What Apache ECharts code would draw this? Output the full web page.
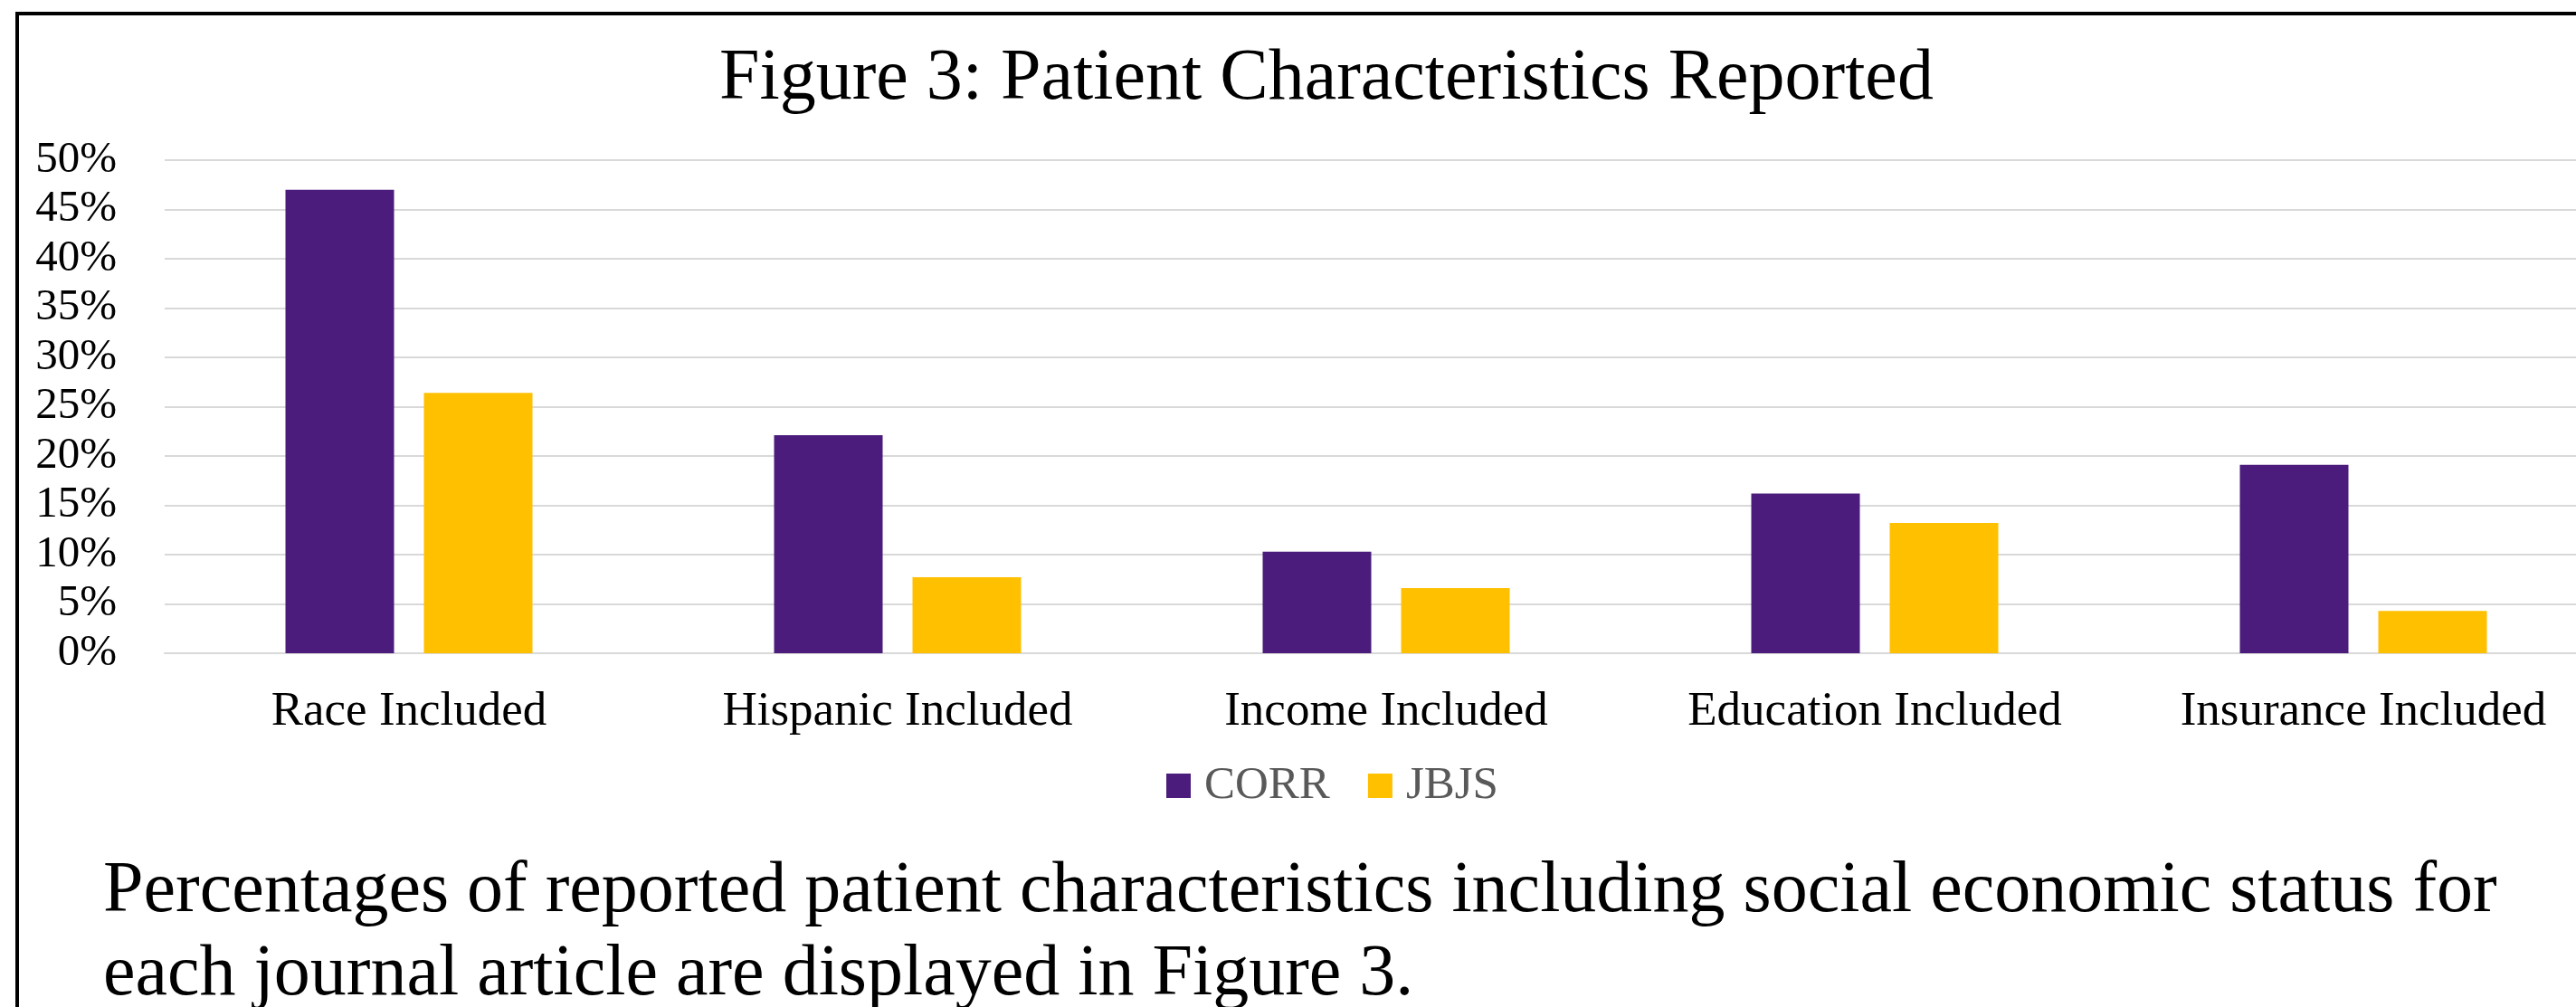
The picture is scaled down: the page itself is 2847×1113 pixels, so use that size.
<!DOCTYPE html>
<html>
<head>
<meta charset="utf-8">
<title>Figure 3</title>
<script src="https://cdn.jsdelivr.net/npm/echarts@6/dist/echarts.min.js"></script>
<style>
  html, body { margin: 0; padding: 0; background: #fff; overflow: hidden; }
  /* the original figure is cropped on the right, so the chart runs past the window */
  #main { width: 2900px; height: 1113px; }
</style>
</head>
<body>
<div id="main"></div>
<script>
var categories = ["Race Included", "Hispanic Included", "Income Included", "Education Included", "Insurance Included"];
var corrValues = [47.0, 22.1, 10.3, 16.2, 19.1];
var jbjsValues = [26.4, 7.7, 6.6, 13.2, 4.3];
var seriesNames = ["CORR", "JBJS"];
var titleText = "Figure 3: Patient Characteristics Reported";
var captionText = "Percentages of reported patient characteristics including social economic status for\neach journal article are displayed in Figure 3.";

var serif = "'Liberation Serif', 'Times New Roman', serif";

var chart = echarts.init(document.getElementById("main"));

var option = {
    animation: false,
    backgroundColor: "#fff",
    color: ["#4B1C7B", "#FFC000"],
    title: [
        {
            text: titleText,
            left: 795,
            top: 48,
            padding: 0,
            textStyle: { fontFamily: serif, fontSize: 80, fontWeight: "normal", color: "#000" }
        },
        {
            text: captionText,
            left: 114,
            top: 940,
            padding: 0,
            textStyle: { fontFamily: serif, fontSize: 80, fontWeight: "normal", color: "#000", lineHeight: 92 }
        }
    ],
    legend: {
        data: seriesNames,
        left: 1289,
        top: 843,
        padding: 0,
        icon: "rect",
        itemWidth: 27,
        itemHeight: 27,
        itemGap: 42,
        textStyle: { fontFamily: serif, fontSize: 51, color: "#595959", padding: [0, 0, 0, 10] }
    },
    grid: {
        left: 182,
        top: 177,
        width: 2700,
        bottom: 391
    },
    xAxis: {
        type: "category",
        data: categories,
        axisTick: { show: false },
        axisLine: { show: true, lineStyle: { color: "#D9D9D9", width: 2 } },
        axisLabel: { fontFamily: serif, fontSize: 53, color: "#000", margin: 39, interval: 0 }
    },
    yAxis: {
        type: "value",
        min: 0,
        max: 50,
        interval: 5,
        axisLine: { show: false },
        axisTick: { show: false },
        splitLine: { lineStyle: { color: "#D9D9D9", width: 2 } },
        axisLabel: { fontFamily: serif, fontSize: 49, color: "#000", margin: 53, formatter: "{value}%" }
    },
    graphic: [
        {
            type: "rect",
            silent: true,
            z: -10,
            shape: { x: 19, y: 15, width: 3000, height: 2000 },
            style: { fill: "none", stroke: "#000", lineWidth: 4 }
        }
    ],
    series: [
        {
            name: seriesNames[0],
            type: "bar",
            data: corrValues,
            barWidth: 120,
            barGap: "27.5%"
        },
        {
            name: seriesNames[1],
            type: "bar",
            data: jbjsValues,
            barWidth: 120,
            barGap: "27.5%"
        }
    ]
};

chart.setOption(option);
</script>
</body>
</html>
